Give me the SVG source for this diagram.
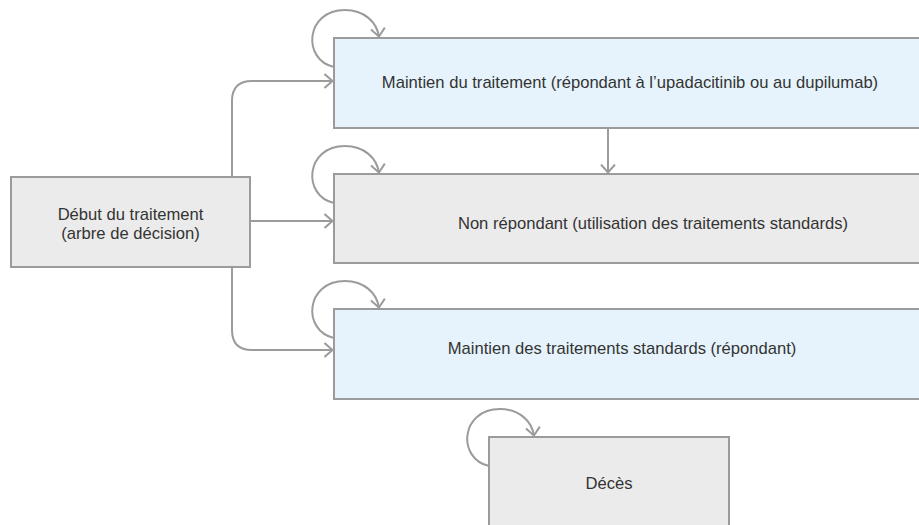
<svg xmlns="http://www.w3.org/2000/svg" width="919" height="525" viewBox="0 0 919 525">
<style>
.box{stroke:#9b9b9b;stroke-width:2}
.blue{fill:#e6f3fc}
.grey{fill:#ebebeb}
.lbl{font-family:"Liberation Sans",Arial,sans-serif;font-size:16.6px;fill:#333333;text-anchor:middle}
.con{fill:none;stroke:#9b9b9b;stroke-width:2;marker-end:url(#ah)}
</style>
<defs>
<marker id="ah" markerUnits="userSpaceOnUse" viewBox="0 0 10 16" refX="9.5" refY="8" markerWidth="10" markerHeight="16" orient="auto">
<path d="M1,1 L9,8 L1,15" fill="none" stroke="#9b9b9b" stroke-width="2"/>
</marker>
</defs>
<rect width="919" height="525" fill="#ffffff"/>
<g id="node-debut">
<rect class="box grey" x="11" y="177" width="239" height="90"/>
<text class="lbl" x="130.5" y="220">Début du traitement</text>
<text class="lbl" x="130.5" y="239">(arbre de décision)</text>
</g>
<g id="node-maintien">
<rect class="box blue" x="334" y="38" width="600" height="90"/>
<text class="lbl" x="630" y="88">Maintien du traitement (répondant à l’upadacitinib ou au dupilumab)</text>
</g>
<g id="node-nonrepondant">
<rect class="box grey" x="334" y="174" width="600" height="89"/>
<text class="lbl" x="653" y="229">Non répondant (utilisation des traitements standards)</text>
</g>
<g id="node-standards">
<rect class="box blue" x="334" y="309" width="600" height="90"/>
<text class="lbl" x="622" y="354">Maintien des traitements standards (répondant)</text>
</g>
<g id="node-deces">
<rect class="box grey" x="489" y="437" width="240" height="100"/>
<text class="lbl" x="609" y="489">Décès</text>
</g>
<g id="connectors">
<path class="con" d="M232,177 V101 Q232,81 252,81 H333"/>
<path class="con" d="M250,221 H333"/>
<path class="con" d="M232,267 V330 Q232,350 252,350 H333"/>
<path class="con" d="M608,129 V173"/>
<path class="con" d="M334,67 C302,60 305,10 345,10 C364,10 377,22 379,37"/>
<path class="con" d="M334,203 C302,196 305,146 345,146 C364,146 377,158 379,173"/>
<path class="con" d="M334,338 C302,331 305,281 345,281 C364,281 377,293 379,308"/>
<path class="con" d="M489,466 C457,459 460,409 500,409 C519,409 532,421 534,436"/>
</g>
</svg>
